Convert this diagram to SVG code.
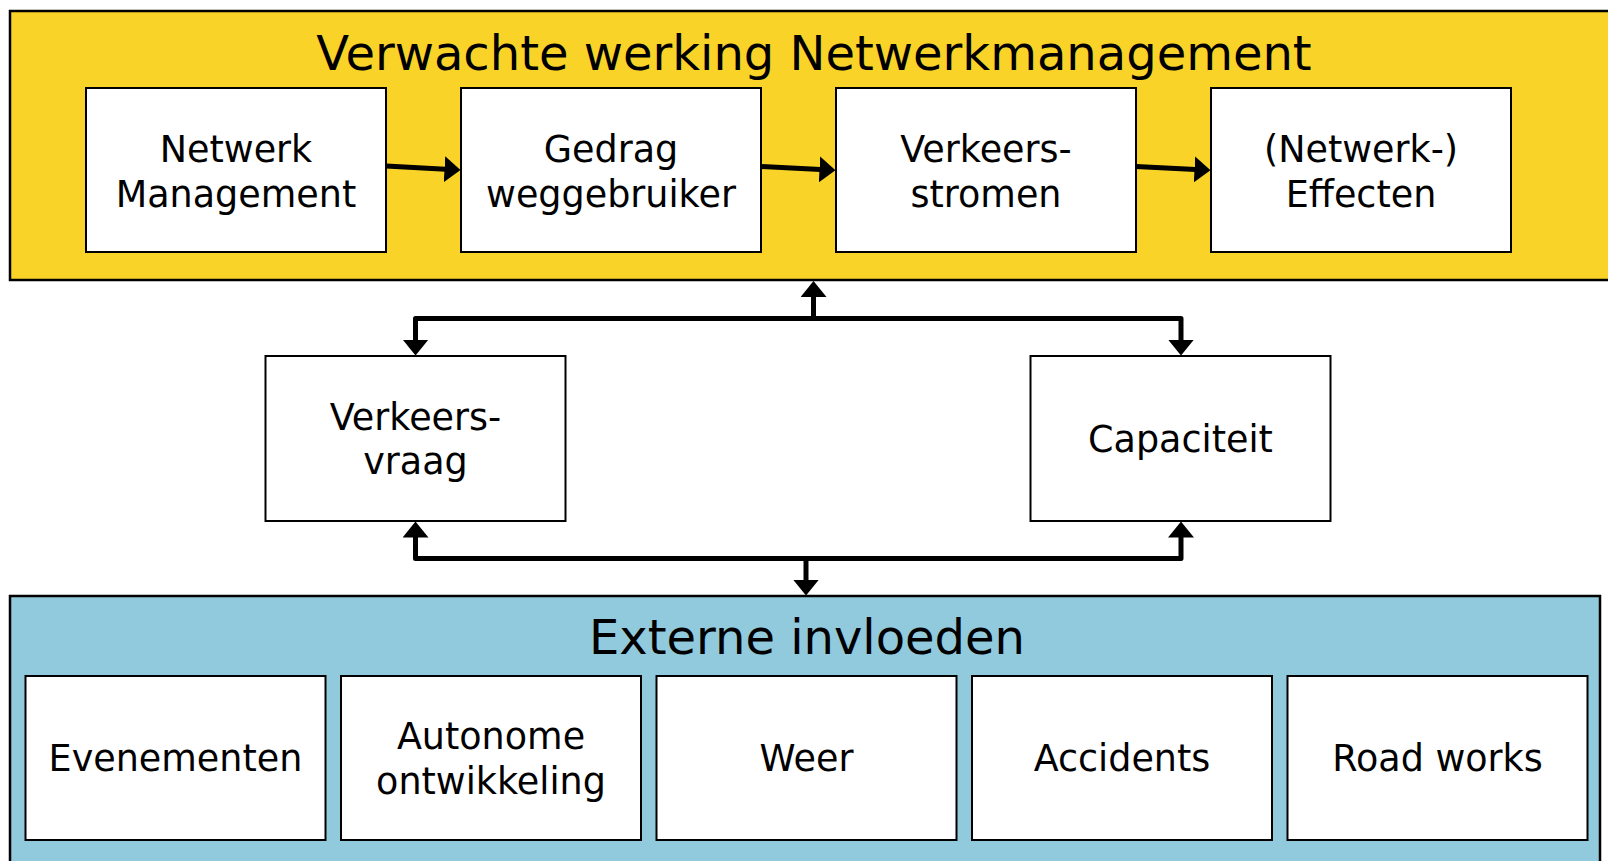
<svg xmlns="http://www.w3.org/2000/svg" width="1608" height="861" viewBox="0 0 1608 861">
  <style>
    .box { fill: #ffffff; stroke: #000000; stroke-width: 2; }
    .lbl { font-family: "DejaVu Sans", Verdana, sans-serif; font-size: 36.5px; fill: #000000; text-anchor: middle; }
    .title { font-family: "DejaVu Sans", Verdana, sans-serif; font-size: 48px; fill: #000000; text-anchor: middle; }
    .conn { fill: none; stroke: #000000; stroke-width: 5; stroke-linejoin: round; }
  </style>
  <defs>
    <marker id="ah" markerUnits="userSpaceOnUse" markerWidth="16" markerHeight="26" viewBox="0 0 16 26" refX="1" refY="13" orient="auto">
      <path d="M0,0 L16,13 L0,26 Z" fill="#000000"/>
    </marker>
  </defs>
  <rect width="1608" height="861" fill="#ffffff"/>

  <g id="group-netwerkmanagement">
    <rect x="10" y="11" width="1610" height="269" fill="#FAD328" stroke="#000000" stroke-width="2.5"/>
    <text class="title" x="814" y="69.5">Verwachte werking Netwerkmanagement</text>
  </g>

  <g id="group-externe">
    <rect x="10" y="596" width="1590" height="280" fill="#91CADD" stroke="#000000" stroke-width="2.5"/>
    <text class="title" x="807" y="654">Externe invloeden</text>
  </g>

  <g id="node-netwerk-management">
    <rect class="box" x="86" y="88" width="300" height="164"/>
    <text class="lbl" x="236" y="162">Netwerk</text>
    <text class="lbl" x="236" y="206.5">Management</text>
  </g>
  <g id="node-gedrag">
    <rect class="box" x="461" y="88" width="300" height="164"/>
    <text class="lbl" x="611" y="162">Gedrag</text>
    <text class="lbl" x="611" y="206.5">weggebruiker</text>
  </g>
  <g id="node-verkeersstromen">
    <rect class="box" x="836" y="88" width="300" height="164"/>
    <text class="lbl" x="986" y="162">Verkeers-</text>
    <text class="lbl" x="986" y="206.5">stromen</text>
  </g>
  <g id="node-effecten">
    <rect class="box" x="1211" y="88" width="300" height="164"/>
    <text class="lbl" x="1361" y="162">(Netwerk-)</text>
    <text class="lbl" x="1361" y="206.5">Effecten</text>
  </g>

  <g id="node-verkeersvraag">
    <rect class="box" x="265.5" y="356" width="300" height="165"/>
    <text class="lbl" x="415.5" y="429.5">Verkeers-</text>
    <text class="lbl" x="415.5" y="474">vraag</text>
  </g>
  <g id="node-capaciteit">
    <rect class="box" x="1030.5" y="356" width="300" height="165"/>
    <text class="lbl" x="1180.5" y="452">Capaciteit</text>
  </g>

  <g id="node-evenementen">
    <rect class="box" x="25.5" y="676" width="300" height="164"/>
    <text class="lbl" x="175.5" y="771">Evenementen</text>
  </g>
  <g id="node-autonome">
    <rect class="box" x="341" y="676" width="300" height="164"/>
    <text class="lbl" x="491" y="749">Autonome</text>
    <text class="lbl" x="491" y="793.5">ontwikkeling</text>
  </g>
  <g id="node-weer">
    <rect class="box" x="656.5" y="676" width="300" height="164"/>
    <text class="lbl" x="806.5" y="771">Weer</text>
  </g>
  <g id="node-accidents">
    <rect class="box" x="972" y="676" width="300" height="164"/>
    <text class="lbl" x="1122" y="771">Accidents</text>
  </g>
  <g id="node-roadworks">
    <rect class="box" x="1287.5" y="676" width="300" height="164"/>
    <text class="lbl" x="1437.5" y="771">Road works</text>
  </g>

  <g id="connectors">
    <path class="conn" d="M386,166 L445.5,169.2" marker-end="url(#ah)"/>
    <path class="conn" d="M761,166.5 L820.5,169.5" marker-end="url(#ah)"/>
    <path class="conn" d="M1136,166.5 L1195.5,169.5" marker-end="url(#ah)"/>

    <path class="conn" d="M415.5,340.5 L415.5,318.5 L1181,318.5 L1181,340.5" marker-end="url(#ah)"/>
    <path class="conn" d="M415.5,318.5 L415.5,340.5" marker-end="url(#ah)"/>
    <path class="conn" d="M813.5,318.5 L813.5,296" marker-end="url(#ah)"/>

    <path class="conn" d="M415.5,536.5 L415.5,558.5 L1181,558.5 L1181,536.5" marker-end="url(#ah)"/>
    <path class="conn" d="M415.5,558.5 L415.5,536.5" marker-end="url(#ah)"/>
    <path class="conn" d="M806,558.5 L806,580.5" marker-end="url(#ah)"/>
  </g>
</svg>
